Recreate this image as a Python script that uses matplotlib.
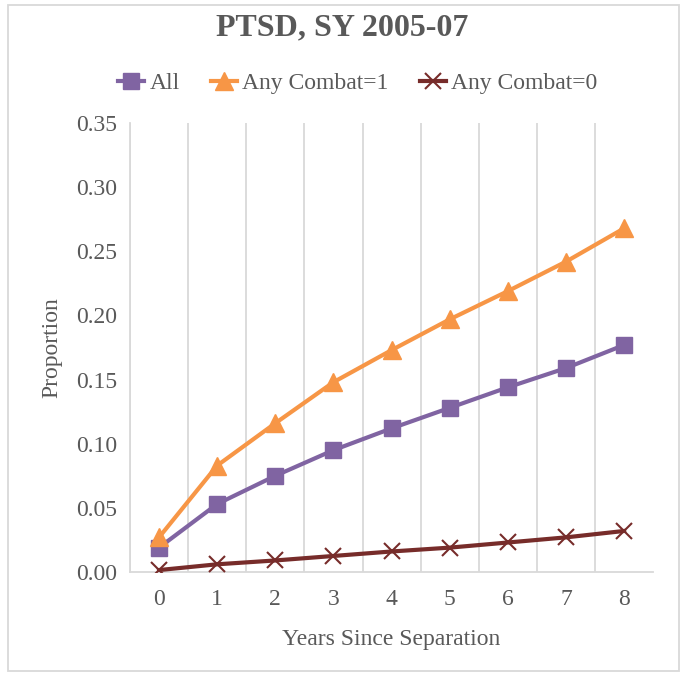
import matplotlib.pyplot as plt
from matplotlib.patches import Rectangle

plt.rcParams['font.family'] = ['Liberation Serif', 'DejaVu Serif']

years = [0, 1, 2, 3, 4, 5, 6, 7, 8]
all_vals = [0.019, 0.053, 0.075, 0.095, 0.112, 0.128, 0.144, 0.159, 0.177]
combat1 = [0.027, 0.083, 0.116, 0.148, 0.173, 0.197, 0.219, 0.242, 0.268]
combat0 = [0.0015, 0.006, 0.009, 0.0125, 0.016, 0.019, 0.023, 0.027, 0.032]
yticks = [0.00, 0.05, 0.10, 0.15, 0.20, 0.25, 0.30, 0.35]

txt = '#595959'
grid = '#D9D9D9'

fig = plt.figure(figsize=(6.84, 6.75), dpi=100)
ax = fig.add_axes([0.190, 0.1526, 0.765, 0.665])

# vertical gridlines between categories
for g in range(len(years)):
    ax.axvline(g - 0.5, color=grid, lw=1.3, zorder=0)

ax.plot(years, all_vals, color='#8064A2', lw=3, marker='s', ms=12, label='All', zorder=3)
ax.plot(years, combat1, color='#F79646', lw=3, marker='^', ms=13, label='Any Combat=1', zorder=3)
ax.plot(years, combat0, color='#772C2A', lw=3, marker='x', ms=11, mew=1.5, label='Any Combat=0', zorder=3)

ax.set_xlim(-0.5, 8.5)
ax.set_ylim(0, 0.35)
ax.set_yticks(yticks)
ax.set_yticklabels(['%.2f' % v for v in yticks])
ax.set_xticks(years)
ax.tick_params(length=0, labelsize=17, colors=txt, pad=9)
ax.tick_params(axis='x', pad=12)

for s in ['top', 'right']:
    ax.spines[s].set_visible(False)
ax.spines['left'].set_color(grid)
ax.spines['bottom'].set_color(grid)
ax.spines['left'].set_linewidth(1.3)
ax.spines['bottom'].set_linewidth(1.3)

ax.set_xlabel('Years Since Separation', fontsize=17, color=txt, labelpad=14)
ax.set_ylabel('Proportion', fontsize=17, color=txt, labelpad=10)

fig.text(0.5, 0.958, 'PTSD, SY 2005-07', ha='center', va='center',
         fontsize=23, fontweight='bold', color=txt)

fig.legend(loc='center', bbox_to_anchor=(0.523, 0.877), ncol=3, frameon=False,
           fontsize=17, labelcolor=txt, handlelength=1.1, handletextpad=0.25,
           columnspacing=1.3, markerscale=1.0)

fig.patches.append(Rectangle((0.012, 0.006), 0.98, 0.987, transform=fig.transFigure,
                             fill=False, edgecolor=grid, lw=1.3))

fig.savefig('out.png', dpi=100)
